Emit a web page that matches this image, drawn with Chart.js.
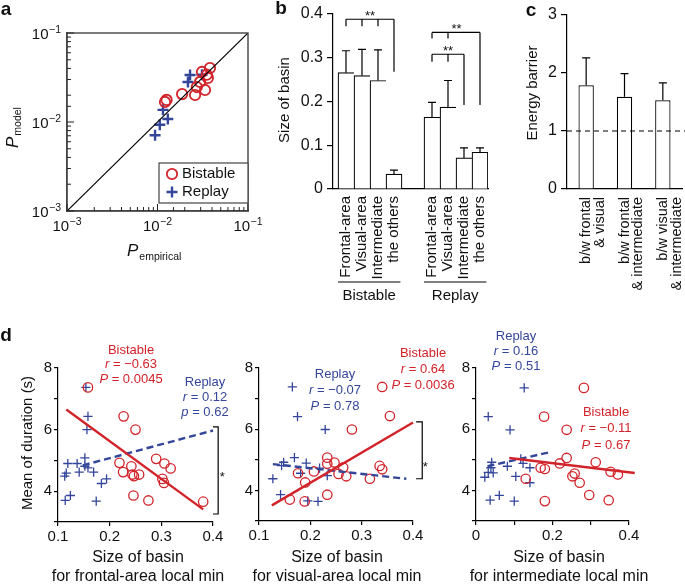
<!DOCTYPE html>
<html>
<head>
<meta charset="utf-8">
<script src="https://cdn.jsdelivr.net/npm/chart.js@4"></script>
<style>
  body { margin: 0; background: #fff; }
  #wrap { position: relative; width: 685px; height: 585px; }
  canvas { position: absolute; left: 0; top: 0; }
</style>
</head>
<body>
<div id="wrap">
  <canvas id="ca" width="685" height="585"></canvas>
  <canvas id="cb" width="685" height="585"></canvas>
  <canvas id="cc" width="685" height="585"></canvas>
  <canvas id="cd1" width="685" height="585"></canvas>
  <canvas id="cd2" width="685" height="585"></canvas>
  <canvas id="cd3" width="685" height="585"></canvas>
</div>
<script>
// ---- panel a: P_model vs P_empirical ----
const aBistableX = [0.0121, 0.0126, 0.0187, 0.026, 0.0335, 0.0295, 0.031, 0.035, 0.038, 0.036, 0.0272];
const aBistableY = [0.0168, 0.0177, 0.0206, 0.0201, 0.0229, 0.0282, 0.0365, 0.034, 0.0404, 0.0313, 0.0247];
const aReplayX = [0.0094, 0.0106, 0.0115, 0.0130, 0.0229, 0.0217, 0.031];
const aReplayY = [0.0071, 0.0093, 0.0137, 0.0108, 0.0337, 0.0282, 0.034];
const aDiagonal = [0.001, 0.1];

// ---- panel b: size of basin ----
const bCategories = ['Frontal-area', 'Visual-area', 'Intermediate', 'the others'];
const bGroups = ['Bistable', 'Replay'];
const bBistable = [0.266, 0.259, 0.248, 0.034];
const bBistableErr = [0.316, 0.319, 0.318, 0.043];
const bReplay = [0.164, 0.187, 0.071, 0.084];
const bReplayErr = [0.198, 0.248, 0.094, 0.094];
// brackets: bar indices 0-7 (4 bistable, then 4 replay)
const bSignif = [
  { label: '**', level: 0.388, drop: 0.372, from: [0, 1, 2], to: 3, toEnd: 0.268, at: 1.5 },
  { label: '**', level: 0.358, drop: 0.344, from: [4, 5], to: 7, toEnd: 0.192, at: 5.53 },
  { label: '**', level: 0.308, drop: 0.291, from: [4, 5], to: 6, toEnd: 0.192, at: 5 }
];

// ---- panel c: energy barrier ----
const cLabels = [['b/w frontal', '& visual'], ['b/w frontal', '& intermediate'], ['b/w visual', '& intermediate']];
const cValues = [1.79, 1.59, 1.53];
const cErr = [2.26, 1.99, 1.83];
const cBaseline = 1;

// ---- panel d: mean duration vs size of basin ----
const d1BistableX = [0.158, 0.227, 0.250, 0.219, 0.226, 0.242, 0.244, 0.247, 0.257, 0.246, 0.275, 0.290, 0.306, 0.318, 0.302, 0.305, 0.381];
const d1BistableY = [7.37, 6.43, 6.00, 4.92, 4.62, 4.81, 4.54, 4.49, 4.54, 3.86, 3.70, 5.05, 4.90, 4.74, 4.40, 4.27, 3.66];
const d1ReplayX = [0.154, 0.158, 0.156, 0.152, 0.119, 0.137, 0.152, 0.158, 0.141, 0.116, 0.113, 0.169, 0.184, 0.194, 0.124, 0.114, 0.174];
const d1ReplayY = [7.37, 6.43, 6.00, 5.08, 4.90, 4.90, 4.81, 4.76, 4.62, 4.59, 4.49, 4.62, 4.25, 4.40, 3.86, 3.70, 3.68];
const d1FitBistableX = [0.116, 0.381], d1FitBistableY = [6.65, 3.41];
const d1FitReplayX = [0.148, 0.400], d1FitReplayY = [4.84, 5.97];

const d2BistableX = [0.340, 0.355, 0.281, 0.233, 0.247, 0.233, 0.264, 0.335, 0.340, 0.207, 0.176, 0.255, 0.270, 0.316, 0.190, 0.233, 0.160, 0.189];
const d2BistableY = [7.38, 6.43, 5.99, 5.07, 4.91, 4.87, 4.75, 4.80, 4.69, 4.62, 4.56, 4.54, 4.46, 4.38, 4.26, 3.86, 3.70, 3.64];
const d2ReplayX = [0.165, 0.175, 0.229, 0.169, 0.148, 0.144, 0.192, 0.181, 0.218, 0.127, 0.233, 0.142, 0.195, 0.215];
const d2ReplayY = [7.38, 6.41, 5.99, 5.07, 4.92, 4.81, 4.89, 4.56, 4.73, 4.38, 4.48, 3.86, 3.66, 3.64];
const d2FitBistableX = [0.125, 0.400], d2FitBistableY = [3.51, 6.22];
const d2FitReplayX = [0.127, 0.387], d2FitReplayY = [4.86, 4.38];

const d3BistableX = [0.282, 0.178, 0.237, 0.237, 0.219, 0.313, 0.169, 0.180, 0.258, 0.252, 0.271, 0.130, 0.352, 0.371, 0.296, 0.180, 0.347];
const d3BistableY = [7.35, 6.41, 5.98, 5.06, 4.88, 4.92, 4.74, 4.70, 4.55, 4.46, 4.25, 4.38, 4.61, 4.52, 3.85, 3.65, 3.68];
const d3ReplayX = [0.126, 0.032, 0.089, 0.041, 0.117, 0.123, 0.039, 0.032, 0.045, 0.023, 0.082, 0.141, 0.104, 0.141, 0.037, 0.061, 0.100];
const d3ReplayY = [7.35, 6.41, 5.98, 4.92, 5.03, 4.88, 4.74, 4.59, 4.57, 4.43, 4.79, 4.74, 4.46, 4.25, 3.68, 3.84, 3.65];
const d3FitBistableX = [0.087, 0.415], d3FitBistableY = [5.06, 4.57];
const d3FitReplayX = [0.030, 0.190], d3FitReplayY = [4.79, 5.24];

// ---------------------------------------------------------------
const W = 685, H = 585;
const RED = '#d2232a', BLUE = '#34469a', INK = '#111';
const FONT = "'Liberation Sans', Arial, sans-serif";
Chart.defaults.font.family = FONT;
Chart.defaults.font.size = 15;
Chart.defaults.color = INK;
Chart.defaults.animation = false;
Chart.defaults.plugins.legend.display = false;
Chart.defaults.plugins.tooltip.enabled = false;

// every canvas covers the page, so chart areas are set in page pixels
function fixArea(area) {
  return {
    layout: { padding: { left: 0, bottom: 0, top: area.top, right: W - area.right } },
    yFit: s => { s.width = area.left; s.paddingTop = 0; s.paddingBottom = 0; },
    xFit: s => { s.height = H - area.bottom; s.paddingLeft = 0; s.paddingRight = 0; }
  };
}
function pts(xs, ys) { return xs.map((x, i) => ({ x, y: ys[i] })); }

function txt(ctx, s, x, y, o) {
  o = o || {};
  ctx.save();
  ctx.font = (o.style || '') + ' ' + (o.weight || '') + ' ' + (o.size || 15) + 'px ' + FONT;
  ctx.fillStyle = o.color || INK;
  ctx.textAlign = o.align || 'center';
  ctx.textBaseline = o.baseline || 'middle';
  ctx.translate(x, y);
  if (o.rotate) ctx.rotate(o.rotate);
  ctx.fillText(s, 0, 0);
  ctx.restore();
}
// text with italic parts, centred on x
function rich(ctx, parts, x, y, size, color) {
  ctx.save();
  ctx.fillStyle = color; ctx.textBaseline = 'middle'; ctx.textAlign = 'left';
  const fonts = parts.map(p => (p.i ? 'italic ' : '') + size + 'px ' + FONT);
  const widths = parts.map((p, k) => { ctx.font = fonts[k]; return ctx.measureText(p.t).width; });
  let cx = x - widths.reduce((a, b) => a + b, 0) / 2;
  parts.forEach((p, k) => { ctx.font = fonts[k]; ctx.fillText(p.t, cx, y); cx += widths[k]; });
  ctx.restore();
}
function letter(ctx, s, x, y) { txt(ctx, s, x, y, { weight: 'bold', size: 19 }); }

function isDecade(v) { const e = Math.log10(v); return Math.abs(e - Math.round(e)) < 1e-6; }
// "10" with a raised exponent; align: 'center' (x axis) or 'right' (y axis)
function powLabel(ctx, v, x, y, align) {
  const e = '\u2212' + String(-Math.round(Math.log10(v)));
  ctx.save();
  ctx.fillStyle = INK; ctx.textAlign = 'left'; ctx.textBaseline = 'alphabetic';
  ctx.font = '15px ' + FONT; const w1 = ctx.measureText('10').width;
  ctx.font = '10.5px ' + FONT; const w2 = ctx.measureText(e).width;
  const x0 = align === 'right' ? x - w1 - w2 - 0.5 : x - (w1 + w2 + 0.5) / 2;
  ctx.font = '15px ' + FONT; ctx.fillText('10', x0, y);
  ctx.font = '10.5px ' + FONT; ctx.fillText(e, x0 + w1 + 0.5, y - 6);
  ctx.restore();
}

// ================= panel a =================
const A = fixArea({ left: 67, top: 33, right: 248, bottom: 211 });
const logAxis = fit => ({
  type: 'logarithmic', min: 0.001, max: 0.1, afterFit: fit,
  grid: { display: false, drawTicks: false },
  border: { color: '#444', width: 1.4 },
  ticks: { autoSkip: false, maxRotation: 0, minRotation: 0, padding: 7, callback: () => '' }
});
new Chart(document.getElementById('ca'), {
  type: 'scatter',
  data: {
    datasets: [
      { type: 'line', data: pts(aDiagonal, aDiagonal), borderColor: '#000', borderWidth: 1.2, pointRadius: 0 },
      { label: 'Bistable', data: pts(aBistableX, aBistableY), pointStyle: 'circle', pointRadius: 5.2,
        pointBorderColor: RED, pointBackgroundColor: 'rgba(0,0,0,0)', pointBorderWidth: 1.8, clip: false },
      { label: 'Replay', data: pts(aReplayX, aReplayY), pointStyle: 'cross', pointRadius: 5.5,
        pointBorderColor: BLUE, pointBorderWidth: 2.4, clip: false }
    ]
  },
  options: {
    responsive: false, layout: A.layout,
    scales: { x: logAxis(A.xFit), y: logAxis(A.yFit) }
  },
  plugins: [{
    id: 'panelA',
    afterDraw(chart) {
      const { ctx, chartArea: ca, scales: { x, y } } = chart;
      ctx.save();
      ctx.strokeStyle = '#444'; ctx.lineWidth = 1.4;
      ctx.strokeRect(ca.left, ca.top, ca.right - ca.left, ca.bottom - ca.top);
      ctx.lineWidth = 1; ctx.strokeStyle = '#222';
      ctx.beginPath();
      x.ticks.forEach(t => {
        const p = x.getPixelForValue(t.value), L = isDecade(t.value) ? 7 : 4;
        ctx.moveTo(p, ca.bottom); ctx.lineTo(p, ca.bottom - L);
      });
      y.ticks.forEach(t => {
        const p = y.getPixelForValue(t.value), L = isDecade(t.value) ? 7 : 4;
        ctx.moveTo(ca.left, p); ctx.lineTo(ca.left + L, p);
      });
      ctx.stroke();
      ctx.restore();
      x.ticks.filter(t => isDecade(t.value)).forEach(t => powLabel(ctx, t.value, x.getPixelForValue(t.value), ca.bottom + 20, 'center'));
      y.ticks.filter(t => isDecade(t.value)).forEach(t => powLabel(ctx, t.value, ca.left - 6, y.getPixelForValue(t.value) + 6, 'right'));
      // legend box
      const lx = ca.right - 89, ly = ca.bottom - 48;
      ctx.save();
      ctx.fillStyle = '#fff'; ctx.fillRect(lx, ly, 89, 40);
      ctx.strokeStyle = '#444'; ctx.lineWidth = 1.2; ctx.strokeRect(lx, ly, 89, 40);
      ctx.strokeStyle = RED; ctx.lineWidth = 1.8;
      ctx.beginPath(); ctx.arc(lx + 13, ly + 11, 5.2, 0, Math.PI * 2); ctx.stroke();
      ctx.strokeStyle = BLUE; ctx.lineWidth = 2.4;
      ctx.beginPath();
      ctx.moveTo(lx + 7.5, ly + 29); ctx.lineTo(lx + 18.5, ly + 29);
      ctx.moveTo(lx + 13, ly + 23.5); ctx.lineTo(lx + 13, ly + 34.5);
      ctx.stroke();
      ctx.restore();
      txt(ctx, 'Bistable', lx + 23, ly + 11, { align: 'left' });
      txt(ctx, 'Replay', lx + 23, ly + 29, { align: 'left' });
      // axis titles
      ctx.save();
      ctx.fillStyle = INK; ctx.textAlign = 'left'; ctx.textBaseline = 'alphabetic';
      ctx.translate(18, 148); ctx.rotate(-Math.PI / 2);
      ctx.font = 'italic 17px ' + FONT; ctx.fillText('P', 0, 0);
      let w = ctx.measureText('P').width;
      ctx.font = '10.5px ' + FONT; ctx.fillText('model', w + 1, 3);
      ctx.restore();
      ctx.save();
      ctx.fillStyle = INK; ctx.textAlign = 'left'; ctx.textBaseline = 'alphabetic';
      ctx.font = 'italic 17px ' + FONT; ctx.fillText('P', 127, 256);
      w = ctx.measureText('P').width;
      ctx.font = '10.5px ' + FONT; ctx.fillText('empirical', 127 + w + 1, 260);
      ctx.restore();
      letter(ctx, 'a', 6, 10);
    }
  }]
});

// ================= panel b =================
const B = fixArea({ left: 333, top: 14, right: 488, bottom: 189 });
const bValues = bBistable.concat(bReplay);
const bErrors = bBistableErr.concat(bReplayErr);
const bGap = 1.375;                       // extra space between the two groups, in bar widths
const bSlot = i => (i < 4 ? i + 1 : i + 1 + bGap);
new Chart(document.getElementById('cb'), {
  type: 'bar',
  data: {
    datasets: [{
      data: bValues.map((y, i) => ({ x: bSlot(i), y })),
      backgroundColor: '#fff', borderColor: '#000',
      borderWidth: c => ({ top: 1.2, left: 1.2, right: (c.dataIndex % 4 === 3) ? 1.2 : 0, bottom: 0 }),
      barPercentage: 1, categoryPercentage: 1
    }]
  },
  options: {
    responsive: false, layout: B.layout,
    scales: {
      x: {
        type: 'linear', min: 0.1875, max: 8 + bGap + 0.5, offset: false, afterFit: B.xFit,
        afterBuildTicks: s => { s.ticks = bValues.map((_, i) => ({ value: bSlot(i) })); },
        grid: { display: false, drawTicks: false, offset: false },
        border: { color: '#000', width: 1.2 },
        ticks: { autoSkip: false, minRotation: 90, maxRotation: 90, padding: 7,
          callback: (v, i) => bCategories[i % 4] }
      },
      y: {
        min: 0, max: 0.4, afterFit: B.yFit,
        grid: { drawOnChartArea: false, tickLength: 6, color: '#000', lineWidth: 1.2 },
        border: { color: '#000', width: 1.2 },
        ticks: { stepSize: 0.1, padding: 4, font: { size: 16 }, callback: v => (v === 0 ? '0' : v.toFixed(1)) }
      }
    }
  },
  plugins: [{
    id: 'panelB',
    afterDraw(chart) {
      const { ctx, scales: { x, y } } = chart;
      const bars = chart.getDatasetMeta(0).data;
      ctx.save();
      ctx.strokeStyle = '#000'; ctx.lineWidth = 1.2;
      ctx.beginPath();
      bars.forEach((bar, i) => {
        const top = y.getPixelForValue(bErrors[i]);
        ctx.moveTo(bar.x, bar.y); ctx.lineTo(bar.x, top);
        ctx.moveTo(bar.x - 4, top); ctx.lineTo(bar.x + 4, top);
      });
      // significance brackets
      bSignif.forEach(s => {
        const yl = y.getPixelForValue(s.level);
        const xs = s.from.map(i => x.getPixelForValue(bSlot(i)));
        const xe = x.getPixelForValue(bSlot(s.to));
        ctx.moveTo(xs[0], yl); ctx.lineTo(xe, yl);
        xs.forEach(px => { ctx.moveTo(px, yl); ctx.lineTo(px, y.getPixelForValue(s.drop)); });
        ctx.moveTo(xe, yl); ctx.lineTo(xe, y.getPixelForValue(s.toEnd));
      });
      // group underlines
      [[0, 3], [4, 7]].forEach(([i0, i1]) => {
        ctx.moveTo(x.getPixelForValue(bSlot(i0) - 0.5), 282);
        ctx.lineTo(x.getPixelForValue(bSlot(i1) + 0.4), 282);
      });
      ctx.stroke();
      ctx.restore();
      bSignif.forEach(s => {
        const at = s.at < 4 ? s.at + 1 : s.at + 1 + bGap;
        txt(ctx, s.label, x.getPixelForValue(at), y.getPixelForValue(s.level) + 1,
          { size: 13, baseline: 'alphabetic' });
      });
      bGroups.forEach((g, k) => {
        const cx = (x.getPixelForValue(bSlot(k * 4) - 0.5) + x.getPixelForValue(bSlot(k * 4 + 3) + 0.4)) / 2;
        txt(ctx, g, cx, 296);
      });
      txt(ctx, 'Size of basin', 285, 100, { rotate: -Math.PI / 2 });
      letter(ctx, 'b', 281, 9);
    }
  }]
});

// ================= panel c =================
const C = fixArea({ left: 567, top: 15, right: 682, bottom: 189 });
new Chart(document.getElementById('cc'), {
  type: 'bar',
  data: {
    labels: cLabels,
    datasets: [{
      data: cValues, backgroundColor: '#fff', borderColor: '#000',
      borderWidth: { top: 1.2, left: 1.2, right: 1.2, bottom: 0 },
      barPercentage: 0.4, categoryPercentage: 1
    }]
  },
  options: {
    responsive: false, layout: C.layout,
    scales: {
      x: {
        afterFit: C.xFit,
        grid: { display: false, drawTicks: false },
        border: { color: '#000', width: 1.2 },
        ticks: { autoSkip: false, minRotation: 90, maxRotation: 90, padding: 8,
          font: { size: 14.5, lineHeight: 0.95 } }
      },
      y: {
        min: 0, max: 3, afterFit: C.yFit,
        grid: { drawOnChartArea: false, tickLength: 6, color: '#000', lineWidth: 1.2 },
        border: { color: '#000', width: 1.2 },
        ticks: { stepSize: 1, padding: 4, font: { size: 16 } }
      }
    }
  },
  plugins: [{
    id: 'panelC',
    afterDraw(chart) {
      const { ctx, chartArea: ca, scales: { y } } = chart;
      const bars = chart.getDatasetMeta(0).data;
      ctx.save();
      ctx.strokeStyle = '#000'; ctx.lineWidth = 1.2;
      ctx.setLineDash([5, 4]);
      const yb = y.getPixelForValue(cBaseline);
      ctx.beginPath(); ctx.moveTo(ca.left, yb); ctx.lineTo(W, yb); ctx.stroke();
      ctx.setLineDash([]);
      ctx.beginPath();
      bars.forEach((bar, i) => {
        const top = y.getPixelForValue(cErr[i]);
        ctx.moveTo(bar.x, bar.y); ctx.lineTo(bar.x, top);
        ctx.moveTo(bar.x - 4, top); ctx.lineTo(bar.x + 4, top);
      });
      ctx.stroke();
      ctx.restore();
      txt(ctx, 'Energy barrier', 533, 93, { rotate: -Math.PI / 2 });
      letter(ctx, 'c', 531, 11);
    }
  }]
});

// ================= panel d =================
function dChart(id, area, o) {
  const L = fixArea(area);
  const datasets = [
    { type: 'line', data: pts(o.fitBX, o.fitBY), borderColor: RED, borderWidth: 2.4, pointRadius: 0, clip: false },
    { type: 'line', data: pts(o.fitRX, o.fitRY), borderColor: BLUE, borderWidth: 2.4, borderDash: [7, 4], pointRadius: 0, clip: false },
    { data: pts(o.bisX, o.bisY), pointStyle: 'circle', pointRadius: 4.7,
      pointBorderColor: RED, pointBackgroundColor: 'rgba(0,0,0,0)', pointBorderWidth: 1.3, clip: false },
    { data: pts(o.repX, o.repY), pointStyle: 'cross', pointRadius: 4.6,
      pointBorderColor: BLUE, pointBorderWidth: 1.3, clip: false }
  ];
  if (o.bracket) {
    const b = o.bracket;
    datasets.push({ type: 'line', data: pts([b.x0, b.x1, b.x1, b.x0], [b.top, b.top, b.bottom, b.bottom]),
      borderColor: '#000', borderWidth: 1.2, pointRadius: 0, clip: false });
  }
  return new Chart(document.getElementById(id), {
    type: 'scatter',
    data: { datasets },
    options: {
      responsive: false, layout: L.layout,
      scales: {
        x: {
          type: 'linear', min: o.xMin, max: 0.4, afterFit: L.xFit,
          grid: { drawOnChartArea: false, tickLength: 4, color: '#000', lineWidth: 1.2 },
          border: { color: '#000', width: 1.2 },
          ticks: { stepSize: 0.1, padding: 2, maxRotation: 0, minRotation: 0, autoSkip: false, callback: o.xLabel }
        },
        y: {
          min: 3, max: 8, afterFit: L.yFit,
          grid: { drawOnChartArea: false, tickLength: 4, color: '#000', lineWidth: 1.2 },
          border: { color: '#000', width: 1.2 },
          ticks: { stepSize: 1, padding: 2, autoSkip: false, callback: v => (v % 2 === 0 ? String(v) : '') }
        }
      }
    },
    plugins: [{
      id: 'panelD',
      afterDraw(chart) {
        const { ctx, scales: { x, y } } = chart;
        o.notes.forEach(n => n.lines.forEach((parts, k) => rich(ctx, parts, n.x, n.ys[k], 13, n.color)));
        if (o.bracket) txt(ctx, '*', x.getPixelForValue(o.bracket.starX), y.getPixelForValue(o.bracket.starY) + 3, { size: 13 });
        txt(ctx, 'Size of basin', o.titleX, 558, { size: 16 });
        txt(ctx, o.title, o.titleX, 577, { size: 16 });
        if (o.extra) o.extra(ctx);
      }
    }]
  });
}
const fmt1 = v => v.toFixed(1);
const note = (color, x, ys, name, r, pl, p) => ({
  color, x, ys, lines: [[{ t: name }], [{ t: 'r', i: 1 }, { t: ' = ' + r }], [{ t: pl, i: 1 }, { t: ' = ' + p }]]
});

dChart('cd1', { left: 58, top: 368, right: 213, bottom: 522 }, {
  xMin: 0.1, xLabel: fmt1,
  bisX: d1BistableX, bisY: d1BistableY, repX: d1ReplayX, repY: d1ReplayY,
  fitBX: d1FitBistableX, fitBY: d1FitBistableY, fitRX: d1FitReplayX, fitRY: d1FitReplayY,
  bracket: { x0: 0.40, x1: 0.41, top: 6.09, bottom: 3.26, starX: 0.418, starY: 4.54 },
  notes: [note(RED, 131, [350, 364, 379], 'Bistable', '\u22120.63', 'P', '0.0045'),
          note(BLUE, 205, [382, 397, 412], 'Replay', '0.12', 'p', '0.62')],
  titleX: 138, title: 'for frontal-area local min',
  extra: ctx => { txt(ctx, 'Mean of duration (s)', 28, 443, { rotate: -Math.PI / 2 }); letter(ctx, 'd', 6, 336); }
});
dChart('cd2', { left: 259, top: 368, right: 413, bottom: 521 }, {
  xMin: 0.1, xLabel: fmt1,
  bisX: d2BistableX, bisY: d2BistableY, repX: d2ReplayX, repY: d2ReplayY,
  fitBX: d2FitBistableX, fitBY: d2FitBistableY, fitRX: d2FitReplayX, fitRY: d2FitReplayY,
  bracket: { x0: 0.406, x1: 0.418, top: 6.24, bottom: 4.38, starX: 0.424, starY: 4.85 },
  notes: [note(BLUE, 335, [374, 390, 406], 'Replay', '\u22120.07', 'P', '0.78'),
          note(RED, 423, [353, 369, 385], 'Bistable', '0.64', 'P', '0.0036')],
  titleX: 337, title: 'for visual-area local min'
});
dChart('cd3', { left: 476, top: 368, right: 629, bottom: 521 }, {
  xMin: 0, xLabel: v => (Math.round(v * 10) % 2 === 0 ? (v === 0 ? '0' : v.toFixed(1)) : ''),
  bisX: d3BistableX, bisY: d3BistableY, repX: d3ReplayX, repY: d3ReplayY,
  fitBX: d3FitBistableX, fitBY: d3FitBistableY, fitRX: d3FitReplayX, fitRY: d3FitReplayY,
  notes: [note(BLUE, 516, [336, 351, 366], 'Replay', '0.16', 'P', '0.51'),
          note(RED, 606, [412, 428, 445], 'Bistable', '\u22120.11', 'P', '0.67')],
  titleX: 559, title: 'for intermediate local min'
});
</script>
</body>
</html>
